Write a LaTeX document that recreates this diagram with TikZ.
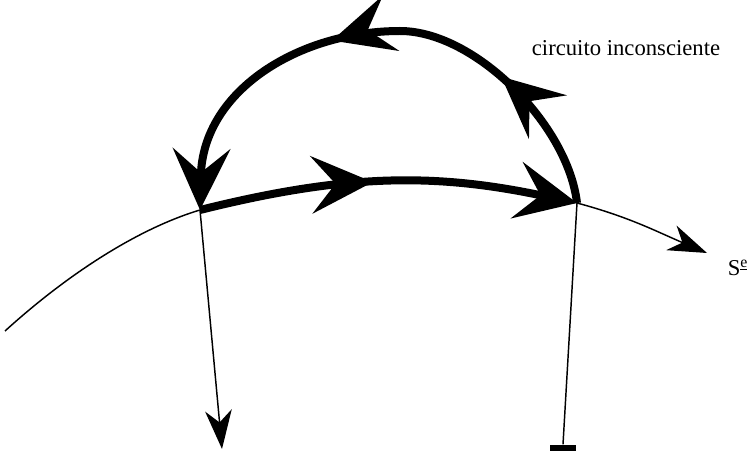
\documentclass[tikz,border=0pt]{standalone}
\usepackage{fontspec}
\setmainfont{Liberation Serif}
\usetikzlibrary{arrows.meta,decorations.markings}
\tikzset{
  bigtip/.tip={Stealth[length=46pt,width=43pt,inset=18pt]},
  smalltip/.tip={Stealth[length=29pt,width=20pt,inset=9pt]},
  thickpath/.style={line width=6pt},
  thinpath/.style={line width=1.1pt},
  midtip/.style={postaction={decorate},decoration={markings,
    mark=at position #1 with {\arrow{bigtip}}}},
  lbl/.style={font=\fontsize{17}{19}\selectfont,inner sep=0pt},
}
\begin{document}
\begin{tikzpicture}[x=0.75pt,y=-0.75pt]
  \useasboundingbox (0,0) rectangle (754,452);
  % points where the circuit meets the curve
  \coordinate (L) at (200,210);
  \coordinate (R) at (577,203);
  \coordinate (T) at (400,31);
  \coordinate (a) at (5,331);
  \coordinate (b) at (707,253);
  \coordinate (c) at (222,449);
  \node[fill=black,minimum width=20pt,minimum height=5pt,inner sep=0pt] (bar) at (563,448) {};
  % thin curve
  \draw[thinpath] (a) .. controls (70,272) and (140,228) .. (L);
  \draw[thinpath,-smalltip] (R) to[out=-15,in=157] (b);
  % verticals
  \draw[thinpath,-smalltip] (L) -- (c);
  \draw[thinpath] (R) -- (bar.north);
  % thick circuit
  \draw[thickpath,-bigtip,midtip=0.46] (L) to[out=14,in=168] (R);
  \draw[thickpath,midtip=0.57] (R) .. controls (568,125) and (475,31) .. (T);
  \draw[thickpath,-bigtip,midtip=0.23] (T) .. controls (300,31) and (203,90) .. (L);
  % labels
  \node[lbl] (circ) at (626,48) {circuito inconsciente};
  \node[lbl] (se) at (738,268) {S\textsuperscript{\underline{e}}};
\end{tikzpicture}
\end{document}
